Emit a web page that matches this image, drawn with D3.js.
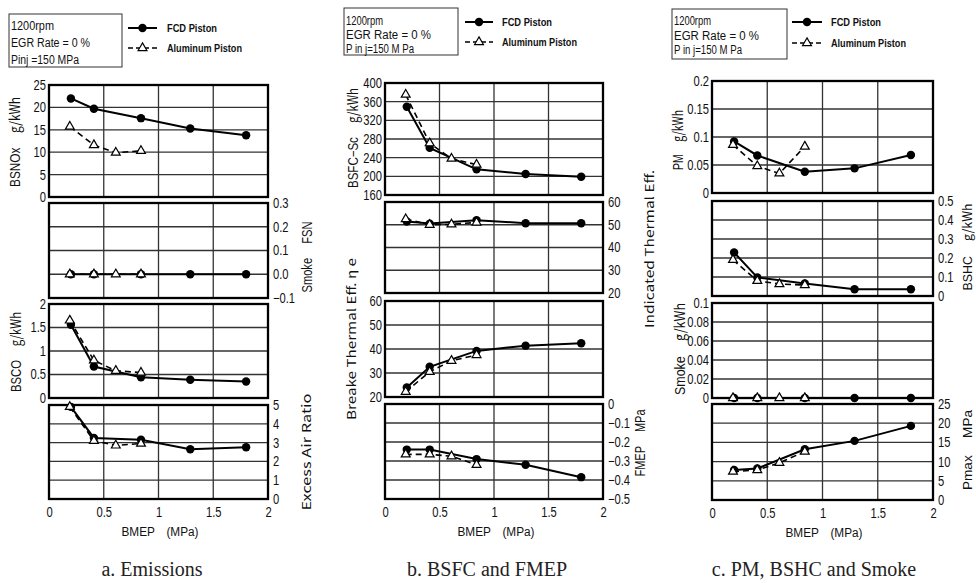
<!DOCTYPE html>
<html><head><meta charset="utf-8">
<script src="https://cdn.jsdelivr.net/npm/d3@7"></script>
<style>body{margin:0;background:#fff} svg{display:block}</style>
</head><body>
<svg id="c" width="976" height="583"></svg>
<script>
// ---------- DATA ----------
const xFCD = [0.2, 0.41, 0.84, 1.29, 1.8];
const xAl  = [0.19, 0.41, 0.61, 0.84];
const xTicks = [0, 0.5, 1, 1.5, 2];
const xTickLabels = ["0", "0.5", "1", "1.5", "2"];

// a. Emissions
const bsnoxFCD = [22.0, 19.7, 17.6, 15.3, 13.8];
const bsnoxAl  = [15.7, 11.6, 9.9, 10.3];
const smokeFsnFCD = [0, 0, 0, 0, 0];
const smokeFsnAl  = [0, 0, 0, 0];
const bscoFCD = [1.56, 0.67, 0.44, 0.39, 0.35];
const bscoAl  = [1.65, 0.80, 0.58, 0.54];
const excessAirFCD = [4.9, 3.25, 3.15, 2.65, 2.75];
const excessAirAl  = [4.9, 3.1, 2.85, 2.95];

// b. BSFC and FMEP
const bsfcFCD = [349, 261, 215, 205, 199];
const bsfcAl  = [375, 271, 238, 225];
const iteFCD = [51.4, 50.5, 52.0, 50.7, 50.7];
const iteAl  = [52.5, 50.0, 50.2, 51.0];
const bteFCD = [24.0, 32.6, 39.2, 41.4, 42.4];
const bteAl  = [22.2, 30.5, 35.1, 37.5];
const fmepFCD = [-0.24, -0.24, -0.29, -0.32, -0.385];
const fmepAl  = [-0.265, -0.265, -0.275, -0.32];

// c. PM, BSHC and Smoke
const pmFCD = [0.092, 0.067, 0.038, 0.044, 0.068];
const pmAl  = [0.086, 0.048, 0.035, 0.083];
const bshcFCD = [0.229, 0.098, 0.066, 0.036, 0.036];
const bshcAl  = [0.19, 0.08, 0.063, 0.058];
const smokeGFCD = [0, 0, 0, 0, 0];
const smokeGAl  = [0, 0, 0, 0];
const pmaxFCD = [7.8, 8.2, 13.2, 15.4, 19.3];
const pmaxAl  = [7.4, 7.8, 9.7, 12.6];

// tick values / labels
const bsnoxTicks = [0, 5, 10, 15, 20, 25];
const bsnoxLabels = ["0", "5", "10", "15", "20", "25"];
const fsnTicks = [-0.1, 0, 0.1, 0.2, 0.3];
const fsnLabels = ["\u22120.1", "0.0", "0.1", "0.2", "0.3"];
const bscoTicks = [0, 0.5, 1, 1.5, 2];
const bscoLabels = ["0", "0.5", "1", "1.5", "2"];
const airTicks = [0, 1, 2, 3, 4, 5];
const airLabels = ["0", "1", "2", "3", "4", "5"];
const bsfcTicks = [160, 200, 240, 280, 320, 360, 400];
const bsfcLabels = ["160", "200", "240", "280", "320", "360", "400"];
const effTicks = [20, 30, 40, 50, 60];
const effLabels = ["20", "30", "40", "50", "60"];
const fmepTicks = [-0.5, -0.4, -0.3, -0.2, -0.1, 0];
const fmepLabels = ["\u22120.5", "\u22120.4", "\u22120.3", "\u22120.2", "\u22120.1", "0"];
const pmTicks = [0, 0.05, 0.1, 0.15, 0.2];
const pmLabels = ["0", "0.05", "0.1", "0.15", "0.2"];
const bshcTicks = [0, 0.1, 0.2, 0.3, 0.4, 0.5];
const bshcLabels = ["0", "0.1", "0.2", "0.3", "0.4", "0.5"];
const smokeGTicks = [0, 0.02, 0.04, 0.06, 0.08, 0.1];
const smokeGLabels = ["0", "0.02", "0.04", "0.06", "0.08", "0.1"];
const pmaxTicks = [0, 5, 10, 15, 20, 25];
const pmaxLabels = ["0", "5", "10", "15", "20", "25"];

const captions = ["a. Emissions", "b. BSFC and FMEP", "c. PM, BSHC and Smoke"];
const seriesNames = ["FCD Piston", "Aluminum Piston"];

// ---------- LAYOUT ----------
const SANS = "'Liberation Sans', Arial, sans-serif";
const CJK = "'Noto Sans CJK JP', sans-serif";
const SERIF = "'Liberation Serif', 'Times New Roman', serif";
const SX = 0.8;
const svg = d3.select("#c");

const panels = [
  { x0: 49, x1: 268, caption: captions[0], capX: 152, xlabX: 160,
    box: {x: 9, y: 14, w: 113, h: 53, lines: ["1200rpm", "EGR Rate = 0 %", "Pinj =150 MPa"], ys: [29.5, 47, 63.5], lens: [43, 79, 68]},
    leg: {x1: 128, x2: 157, ys: [28, 48], tx: 167},
    rows: [
      {top: 85, bot: 197, dom: [0, 25], ticks: bsnoxTicks, labels: bsnoxLabels, side: "left", fcd: bsnoxFCD, al: bsnoxAl,
       title: {x: 15, y: 142, parts: [["BSNOx", SANS], ["\u3000 g/kWh", CJK]], len: 90, size: 14}},
      {top: 203, bot: 298, dom: [-0.1, 0.3], ticks: fsnTicks, labels: fsnLabels, side: "right", fcd: smokeFsnFCD, al: smokeFsnAl,
       title: {x: 307, y: 257, parts: [["Smoke", SANS], ["\u3000 FSN", SANS]], len: 71, size: 14}},
      {top: 304, bot: 398, dom: [0, 2], ticks: bscoTicks, labels: bscoLabels, side: "left", fcd: bscoFCD, al: bscoAl,
       title: {x: 16, y: 352, parts: [["BSCO", SANS], ["\u3000 g/kWh", CJK]], len: 80, size: 14}},
      {top: 405, bot: 499, dom: [0, 5], ticks: airTicks, labels: airLabels, side: "right", fcd: excessAirFCD, al: excessAirAl,
       title: {x: 307, y: 452, parts: [["Excess Air Ratio", CJK]], len: 117, size: 12}}
    ]},
  { x0: 385, x1: 603, caption: captions[1], capX: 487, xlabX: 496,
    box: {x: 344, y: 8, w: 114, h: 47, lines: ["1200rpm", "EGR Rate = 0 %", "P in j=150 M Pa"], ys: [24.5, 39, 53], lens: [37, 85, 68]},
    leg: {x1: 465, x2: 493, ys: [22, 42], tx: 502},
    rows: [
      {top: 83, bot: 195, dom: [160, 400], ticks: bsfcTicks, labels: bsfcLabels, side: "left", fcd: bsfcFCD, al: bsfcAl,
       title: {x: 353, y: 138, parts: [["BSFC\u2212Sc", SANS], ["\u3000 g/kWh", CJK]], len: 100, size: 14}},
      {top: 202, bot: 293, dom: [20, 60], ticks: effTicks, labels: effLabels, side: "right", fcd: iteFCD, al: iteAl,
       title: {x: 650, y: 249, parts: [["Indicated Thermal Eff.", CJK]], len: 158, size: 12}},
      {top: 301, bot: 397, dom: [20, 60], ticks: effTicks, labels: effLabels, side: "left", fcd: bteFCD, al: bteAl,
       title: {x: 352, y: 339, parts: [["Breake Thermal Eff. \u03b7 e", CJK]], len: 162, size: 12}},
      {top: 404, bot: 499, dom: [-0.5, 0], ticks: fmepTicks, labels: fmepLabels, side: "right", fcd: fmepFCD, al: fmepAl,
       title: {x: 640, y: 443, parts: [["FMEP", SANS], ["\u3000 MPa", SANS]], len: 67, size: 14}}
    ]},
  { x0: 712, x1: 933, caption: captions[2], capX: 814, xlabX: 824,
    box: {x: 672, y: 9, w: 115, h: 50, lines: ["1200rpm", "EGR Rate = 0 %", "P in j=150 M Pa"], ys: [25, 39.5, 54], lens: [37, 85, 68]},
    leg: {x1: 792, x2: 822, ys: [22, 43], tx: 831},
    rows: [
      {top: 81, bot: 193, dom: [0, 0.2], ticks: pmTicks, labels: pmLabels, side: "left", fcd: pmFCD, al: pmAl,
       title: {x: 678, y: 140, parts: [["PM", SANS], ["\u3000 g/kWh", CJK]], len: 60, size: 14}},
      {top: 201, bot: 296, dom: [0, 0.5], ticks: bshcTicks, labels: bshcLabels, side: "right", fcd: bshcFCD, al: bshcAl,
       title: {x: 967, y: 247, parts: [["BSHC", SANS], ["\u3000 g/kWh", CJK]], len: 87, size: 13}},
      {top: 303, bot: 398, dom: [0, 0.1], ticks: smokeGTicks, labels: smokeGLabels, side: "left", fcd: smokeGFCD, al: smokeGAl,
       title: {x: 680, y: 349, parts: [["Smoke", SANS], ["\u3000 g/kWh", CJK]], len: 92, size: 14}},
      {top: 404, bot: 500, dom: [0, 25], ticks: pmaxTicks, labels: pmaxLabels, side: "right", fcd: pmaxFCD, al: pmaxAl,
       title: {x: 967, y: 450, parts: [["Pmax", SANS], ["\u3000 MPa", SANS]], len: 80, size: 13}}
    ]}
];

const circle = d3.symbol().type(d3.symbolCircle).size(56);
const tri = d3.symbol().type(d3.symbolTriangle).size(34);

function narrowTicks(ag) {
  ag.selectAll("text").each(function () {
    const t = d3.select(this);
    const xv = +t.attr("x") || 0;
    t.attr("x", xv / SX).attr("transform", `scale(${SX},1)`);
  });
}

function drawRotTitle(tt) {
  const t = svg.append("text")
    .attr("transform", `translate(${tt.x},${tt.y}) rotate(-90)`)
    .attr("text-anchor", "middle").attr("dy", "0.36em")
    .attr("font-size", tt.size).attr("fill", "#111")
    .attr("textLength", tt.len).attr("lengthAdjust", "spacingAndGlyphs");
  tt.parts.forEach(p => t.append("tspan").attr("font-family", p[1]).text(p[0]));
}

panels.forEach(p => {
  const x = d3.scaleLinear().domain([0, 2]).range([p.x0, p.x1]);
  p.rows.forEach((r, ri) => {
    const y = d3.scaleLinear().domain(r.dom).range([r.bot, r.top]);
    const g = svg.append("g");
    // horizontal grid
    g.selectAll(null).data(r.ticks.filter(t => t !== r.dom[0] && t !== r.dom[1])).join("line")
      .attr("x1", p.x0).attr("x2", p.x1).attr("y1", d => y(d)).attr("y2", d => y(d))
      .attr("stroke", "#333").attr("stroke-width", 1.3);
    // vertical grid
    g.selectAll(null).data(xTicks.filter(t => t !== 0 && t !== 2)).join("line")
      .attr("x1", d => x(d)).attr("x2", d => x(d)).attr("y1", r.top).attr("y2", r.bot)
      .attr("stroke", "#333").attr("stroke-width", 1.3);
    // frame
    g.append("rect").attr("x", p.x0).attr("y", r.top).attr("width", p.x1 - p.x0).attr("height", r.bot - r.top)
      .attr("fill", "none").attr("stroke", "#000").attr("stroke-width", 2.3);
    // y axis
    const ax = (r.side === "left" ? d3.axisLeft(y) : d3.axisRight(y))
      .tickValues(r.ticks).tickFormat((d, i) => r.labels[i]).tickSize(0).tickPadding(r.side === "left" ? 3 : 5);
    const ag = svg.append("g").attr("transform", `translate(${r.side === "left" ? p.x0 : p.x1},0)`).call(ax);
    ag.select(".domain").remove();
    ag.selectAll("text").attr("font-family", SANS).attr("font-size", 14).attr("fill", "#111");
    narrowTicks(ag);
    // x axis on last row
    if (ri === p.rows.length - 1) {
      const bx = d3.axisBottom(x).tickValues(xTicks).tickFormat((d, i) => xTickLabels[i]).tickSize(0).tickPadding(8);
      const bg = svg.append("g").attr("transform", `translate(0,${r.bot})`).call(bx);
      bg.select(".domain").remove();
      bg.selectAll("text").attr("font-family", SANS).attr("font-size", 14).attr("fill", "#111");
      narrowTicks(bg);
    }
    // series lines
    const line = d3.line().x(d => x(d[0])).y(d => y(d[1]));
    const fcdPts = xFCD.map((v, i) => [v, r.fcd[i]]);
    const alPts = xAl.map((v, i) => [v, r.al[i]]);
    g.append("path").datum(fcdPts).attr("d", line).attr("fill", "none").attr("stroke", "#000").attr("stroke-width", 2);
    g.append("path").datum(alPts).attr("d", line).attr("fill", "none").attr("stroke", "#000")
      .attr("stroke-width", 1.6).attr("stroke-dasharray", "6,4");
    g.selectAll(null).data(fcdPts).join("path").attr("d", circle)
      .attr("transform", d => `translate(${x(d[0])},${y(d[1])})`).attr("fill", "#000");
    g.selectAll(null).data(alPts).join("path").attr("d", tri)
      .attr("transform", d => `translate(${x(d[0])},${y(d[1])})`).attr("fill", "#fff").attr("stroke", "#000").attr("stroke-width", 1.2);
    drawRotTitle(r.title);
  });
  const last = p.rows[p.rows.length - 1];
  // x axis title
  svg.append("text").attr("x", p.xlabX).attr("y", last.bot + 37).attr("text-anchor", "middle")
    .attr("font-family", SANS).attr("font-size", 12).attr("fill", "#111")
    .attr("textLength", 77).attr("lengthAdjust", "spacingAndGlyphs").text("BMEP\u3000(MPa)");
  // caption
  svg.append("text").attr("x", p.capX).attr("y", 576).attr("text-anchor", "middle")
    .attr("font-family", SERIF).attr("font-size", 20).attr("fill", "#222").text(p.caption);
  // info box
  const b = p.box;
  svg.append("rect").attr("x", b.x).attr("y", b.y).attr("width", b.w).attr("height", b.h)
    .attr("fill", "none").attr("stroke", "#333").attr("stroke-width", 1);
  b.lines.forEach((t, i) => svg.append("text").attr("x", b.x + 2).attr("y", b.ys[i])
    .attr("font-family", SANS).attr("font-size", 12.5).attr("fill", "#111")
    .attr("textLength", b.lens[i]).attr("lengthAdjust", "spacingAndGlyphs").text(t));
  // legend
  const L = p.leg, mx = (L.x1 + L.x2) / 2;
  svg.append("line").attr("x1", L.x1).attr("x2", L.x2).attr("y1", L.ys[0]).attr("y2", L.ys[0]).attr("stroke", "#000").attr("stroke-width", 2);
  svg.append("path").attr("d", circle).attr("transform", `translate(${mx},${L.ys[0]})`).attr("fill", "#000");
  svg.append("line").attr("x1", L.x1).attr("x2", L.x2).attr("y1", L.ys[1]).attr("y2", L.ys[1]).attr("stroke", "#000")
    .attr("stroke-width", 1.6).attr("stroke-dasharray", "5,3");
  svg.append("path").attr("d", tri).attr("transform", `translate(${mx},${L.ys[1]})`).attr("fill", "#fff").attr("stroke", "#000").attr("stroke-width", 1.2);
  seriesNames.forEach((n, i) => svg.append("text").attr("x", L.tx).attr("y", L.ys[i] + 4)
    .attr("font-family", SANS).attr("font-size", 11).attr("font-weight", "bold").attr("fill", "#111")
    .attr("textLength", i === 0 ? 50 : 75).attr("lengthAdjust", "spacingAndGlyphs").text(n));
});
</script>
</body></html>
